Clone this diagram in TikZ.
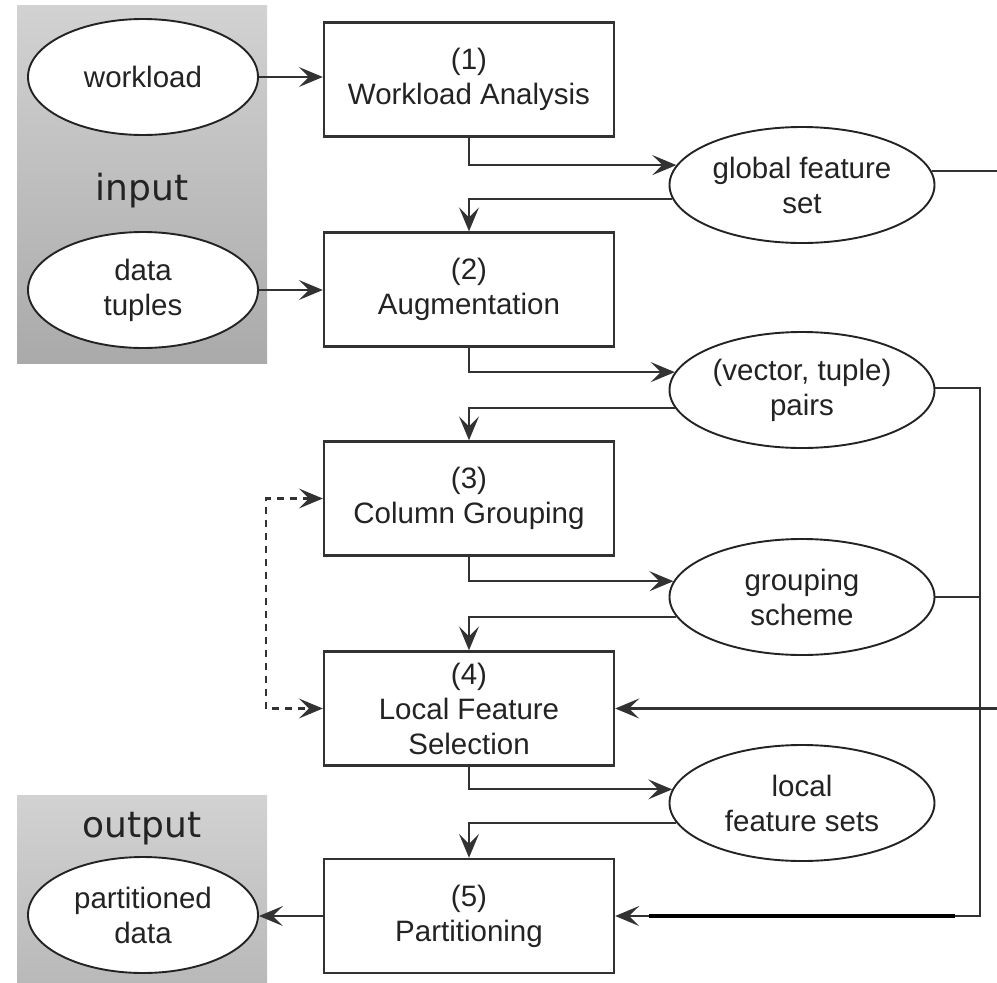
\documentclass[tikz,border=0pt]{standalone}
\usepackage{fontspec}
\setmainfont{Liberation Sans}
\newfontfamily\panelfont{DejaVu Sans}
\usetikzlibrary{arrows.meta,shapes.geometric,calc}
\definecolor{ink}{RGB}{35,35,35}
\definecolor{linec}{RGB}{50,50,50}
\definecolor{paneltop}{RGB}{210,210,210}
\definecolor{panelbot}{RGB}{170,170,170}
\begin{document}
\begin{tikzpicture}[x=1pt,y=-1pt,
  proc/.style={draw=linec, line width=2.4pt, fill=white, minimum width=290pt, minimum height=114pt,
    align=center, inner sep=0pt, text=ink, font=\fontsize{29.5}{35}\selectfont},
  datum/.style={ellipse, draw=ink, line width=1.9pt, fill=white, minimum width=265pt, minimum height=116pt,
    align=center, inner sep=0pt, text=ink, font=\fontsize{29.5}{35}\selectfont},
  lefted/.style={datum, minimum width=230pt, minimum height=116pt},
  tip/.style={-{Stealth[length=24pt,width=20pt,inset=10pt]}},
  conn/.style={draw=linec, line width=2.2pt, tip},
  plain/.style={draw=linec, line width=2.2pt},
  dashconn/.style={draw=linec, line width=2.2pt, dash pattern=on 7pt off 6pt,
    {Stealth[length=24pt,width=20pt,inset=10pt]}-{Stealth[length=24pt,width=20pt,inset=10pt]}},
  panel/.style={top color=paneltop, bottom color=panelbot, draw=none},
  paneltext/.style={text=ink, font=\panelfont\fontsize{36}{40}\selectfont, anchor=base}
]
\useasboundingbox (0,0) rectangle (997,983);
\clip (0,0) rectangle (997,983);

% panels
\path[panel] (17,5) rectangle (267,363);
\path[top color=paneltop, bottom color={rgb,255:red,184;green,184;blue,184}, draw=none] (17,795) rectangle (267,990);
\node[paneltext] (inlab) at (142,200) {input};
\node[paneltext] (outlab) at (142,837) {output};

% left ellipses
\node[lefted] (wl) at (143,77) {workload};
\node[lefted] (dt) at (143,290) {data\\tuples};
\node[lefted] (pd) at (143,915) {partitioned\\data};

% process boxes
\node[proc] (p1) at (469,79.5) {(1)\\Workload Analysis};
\node[proc] (p2) at (469,289.5) {(2)\\Augmentation};
\node[proc] (p3) at (469,498.5) {(3)\\Column Grouping};
\node[proc] (p4) at (469,708.5) {(4)\\Local Feature\\Selection};
\node[proc] (p5) at (469,916) {(5)\\Partitioning};

% right ellipses
\node[datum] (gfs) at (802,185) {global feature\\set};
\node[datum] (vtp) at (802,390) {(vector, tuple)\\pairs};
\node[datum] (gs) at (802,597) {grouping\\scheme};
\node[datum] (lfs) at (802,803) {local\\feature sets};

% right bus coordinates
\coordinate (busA) at (1010,172);
\coordinate (busB) at (980,387);

% connectors
\draw[conn] (wl.east) -- (wl.east -| p1.west);
\draw[conn] (dt.east) -- (dt.east -| p2.west);

\draw[conn] (p1.south) |- (gfs.171);
\draw[conn] (gfs.186) -| (p2.north);
\draw[conn] (p2.south) |- (vtp.172);
\draw[conn] (vtp.188) -| (p3.north);
\draw[conn] (p3.south) |- (gs.173);
\draw[conn] (gs.189) -| (p4.north);
\draw[conn] (p4.south) |- (lfs.174);
\draw[conn] (lfs.189) -| (p5.north);
\draw[conn] (p5.west) -- (p5.west -| pd.east);

\draw[conn] (gfs.6) -- (gfs.6 -| busA) |- (p4.east);
\draw[conn] (vtp.1) -- (vtp.1 -| busB) |- (p5.east);
\draw[plain] (gs.east) -- (gs.east -| busB);
\draw[draw=black, line width=4pt] ($(p5.east)+(34,0)$) -- ($(p5.east)+(340,0)$);

% dashed feedback
\draw[dashconn] (p3.west) -- ++(-57,0) |- (p4.west);
\end{tikzpicture}
\end{document}
